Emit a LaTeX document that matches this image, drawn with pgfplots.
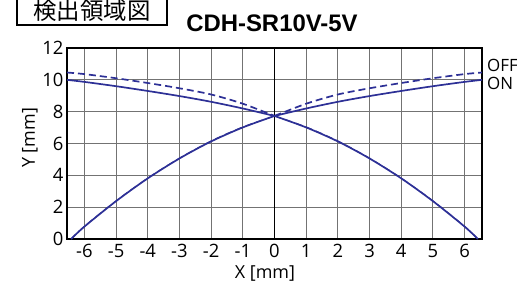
\documentclass[border=0pt]{standalone}
\usepackage{pgfplots}
\pgfplotsset{compat=1.18}
\usepackage{fontspec}
\setmainfont{Open Sans}
\newfontfamily\cjk{Noto Sans CJK JP}
\newfontfamily\titlefont{Liberation Sans}
\definecolor{curve}{RGB}{45,48,150}
\begin{document}
\begin{tikzpicture}[x=1bp,y=1bp]
\begin{axis}[at={(0,0)}, anchor=south west, scale only axis,
  width=415bp, height=191bp,
  xmin=-6.55, xmax=6.55, ymin=0, ymax=12,
  xtick={-6,...,6}, ytick={0,2,...,12},
  grid=major, grid style={black!55, line width=1bp},
  extra x ticks={0}, extra x tick labels={},
  extra x tick style={grid style={black, line width=1.5bp}},
  axis line style={line width=1.9bp},
  tick style={draw=none},
  ticklabel style={font=\fontsize{18.5}{18.5}\selectfont},
  /pgf/number format/assume math mode=true,
  xticklabel style={yshift=-2bp},
]
\addplot[curve, line width=1.7bp, smooth] coordinates {(-6.55,10.0) (-6,9.87) (-5,9.6) (-4,9.3) (-3,8.98) (-2,8.62) (-1,8.2) (0,7.73)};
\addplot[curve, line width=1.7bp, smooth] coordinates {(0,7.73) (1,8.2) (2,8.62) (3,8.98) (4,9.3) (5,9.6) (6,9.87) (6.55,10.0)};
\addplot[curve, line width=1.7bp, smooth, dash pattern=on 7bp off 4bp] coordinates {(-6.55,10.46) (-6,10.36) (-5,10.1) (-4,9.8) (-3,9.47) (-2,9.08) (-1,8.5) (0,7.73)};
\addplot[curve, line width=1.7bp, smooth, dash pattern=on 7bp off 4bp] coordinates {(0,7.73) (1,8.5) (2,9.08) (3,9.47) (4,9.8) (5,10.1) (6,10.36) (6.55,10.46)};
\addplot[curve, line width=1.7bp, smooth] coordinates {(-6.42,0) (-6,0.78) (-5,2.38) (-4,3.81) (-3,5.06) (-2,6.13) (-1,7.01) (0,7.73)};
\addplot[curve, line width=1.7bp, smooth] coordinates {(0,7.73) (1,7.01) (2,6.13) (3,5.06) (4,3.81) (5,2.38) (6,0.78) (6.42,0)};
\addplot[curve, line width=1.0bp, smooth, dash pattern=on 7bp off 4bp] coordinates {(-6.42,0) (-6,0.8) (-5,2.4) (-4,3.83) (-3,5.08) (-2,6.16) (-1,7.04) (0,7.73)};
\addplot[curve, line width=1.0bp, smooth, dash pattern=on 7bp off 4bp] coordinates {(0,7.73) (1,7.04) (2,6.16) (3,5.08) (4,3.83) (5,2.4) (6,0.8) (6.42,0)};
\end{axis}
\node[anchor=base, font=\fontsize{18}{18}\selectfont] at (198bp,-39bp) {X [mm]};
\node[anchor=center, rotate=90, font=\fontsize{18}{18}\selectfont] at (-37bp,101bp) {Y [mm]};
\node[anchor=base west, inner sep=0pt, font=\fontsize{17}{17}\selectfont] at (420bp,167bp) {OFF};
\node[anchor=base west, inner sep=0pt, font=\fontsize{17}{17}\selectfont] at (420bp,149bp) {ON};
\node[anchor=base, inner sep=0pt, font=\titlefont\bfseries\fontsize{24}{24}\selectfont] at (205bp,207bp) {CDH-SR10V-5V};
\draw[line width=1.2bp] (-50bp,214bp) rectangle (100bp,245bp);
\node[anchor=center, inner sep=0pt, font=\cjk\fontsize{23.5}{23.5}\selectfont] at (25bp,228bp) {検出領域図};
\pgfresetboundingbox
\path[use as bounding box] (-67bp,-44bp) rectangle (450bp,239bp);
\end{tikzpicture}
\end{document}
